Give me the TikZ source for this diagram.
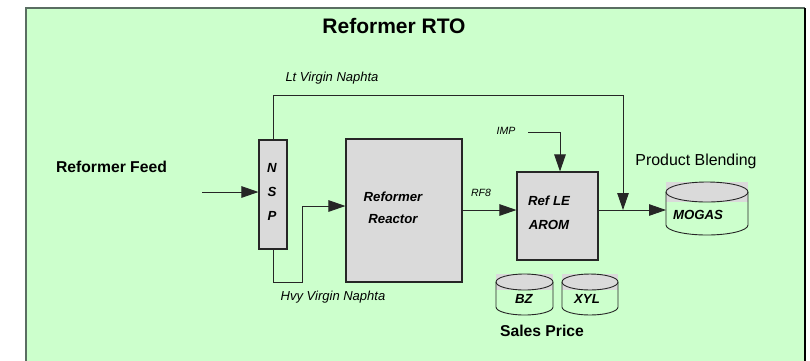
\documentclass[tikz,border=0pt]{standalone}
\usepackage{fontspec}
\setmainfont{Liberation Sans}
\usetikzlibrary{arrows.meta}
\definecolor{bggreen}{HTML}{CCFFCC}
\definecolor{boxgray}{HTML}{DADADA}
\definecolor{framegray}{HTML}{5A6E62}
\definecolor{linecol}{HTML}{262626}
\newcommand{\cylshape}[5]{%
  \fill[boxgray] (#1,#3-#5) rectangle (#2,#3+#5);
  \draw[cylline] ({(#1+#2)/2},#3) ellipse [x radius={(#2-#1)/2}, y radius=#5];
  \draw[cylline] (#1,#3) -- (#1,#4) arc[start angle=180, end angle=0, x radius={(#2-#1)/2}, y radius=#5] -- (#2,#3);
}
\begin{document}
\begin{tikzpicture}[x=1pt,y=-1pt,
  unitbox/.style={draw=linecol, line width=1.1pt, fill=boxgray, inner sep=0pt},
  cylline/.style={draw=linecol, line width=0.9pt},
  arr/.style={draw=linecol, line width=0.9pt, -{Triangle[length=17pt,width=11.5pt]}},
  boxtxt/.style={font=\fontsize{13.2}{22}\selectfont\bfseries\itshape, inner sep=0pt, align=center},
  streamtxt/.style={font=\fontsize{13}{15}\selectfont\itshape, inner sep=0pt},
  smalltxt/.style={font=\fontsize{10.5}{12}\selectfont\itshape, inner sep=0pt},
  bigtxt/.style={font=\fontsize{15.7}{18}\selectfont\bfseries, inner sep=0pt},
  plaintxt/.style={font=\fontsize{15.9}{18}\selectfont, inner sep=0pt},
  titletxt/.style={font=\fontsize{21}{24}\selectfont\bfseries, inner sep=0pt}
]
\useasboundingbox (0,0) rectangle (810,360);
% frame
\fill[bggreen] (26,8) rectangle (805,366);
\draw[framegray, line width=1.3pt] (26,366) -- (26,8) -- (805,8);
\draw[black, line width=1.6pt] (805,8) -- (805,366);

% title and labels
\node[titletxt] (title) at (394,26) {Reformer RTO};
\node[bigtxt] (feedlbl) at (111.5,167) {Reformer Feed};
\node[streamtxt] (ltlbl) at (332,78) {Lt Virgin Naphta};
\node[streamtxt] (hvylbl) at (333,297) {Hvy Virgin Naphta};
\node[smalltxt] (rf8lbl) at (481,193) {RF8};
\node[smalltxt] (implbl) at (506,131) {IMP};
\node[plaintxt] (blendlbl) at (696,161) {Product Blending};
\node[bigtxt] (saleslbl) at (542,331) {Sales Price};

% units
\node[unitbox, minimum width=28pt, minimum height=109pt] (nsp) at (273,194.5) {};
\node[boxtxt, font=\fontsize{13.2}{24}\selectfont\bfseries\itshape] (nsptxt) at (272,192) {N\\S\\P};
\node[unitbox, minimum width=116pt, minimum height=143pt] (reactor) at (404,210.5) {};
\node[boxtxt] (reactortxt) at (393,208) {Reformer\\Reactor};
\node[unitbox, minimum width=81pt, minimum height=88pt] (refle) at (557.5,216) {};
\node[boxtxt, font=\fontsize{13.2}{24}\selectfont\bfseries\itshape] (refletxt) at (549,213) {Ref LE\\AROM};

% tanks
\cylshape{666}{748}{192}{225}{10}
\node[boxtxt] (mogas) at (698,215) {MOGAS};
\cylshape{496}{553}{282}{307}{8}
\node[boxtxt] (bz) at (524,299) {BZ};
\cylshape{562}{618}{282}{307}{8}
\node[boxtxt] (xyl) at (587,299) {XYL};

% connectors
\coordinate (feedin) at (202,192);
\coordinate (mix) at (623,210);
\coordinate (mogasin) at (666,210);
\coordinate (hv1) at (302,282);
\coordinate (hv2) at (302,206);
\coordinate (imp) at (528,132);
\coordinate (impdown) at (560,132);

\draw[arr] (feedin) -- (feedin -| nsp.west);
\draw[arr] (nsp.north) -- ++(0,-44) -| (mix);
\draw[arr] (nsp.south) |- (hv1) -- (hv2) -- (hv2 -| reactor.west);
\draw[arr] (reactor.east |- mix) -- (refle.west |- mix);
\draw[arr] (refle.east |- mix) -- (mogasin);
\draw[arr] (imp) -- (impdown) -- (impdown |- refle.north);
\end{tikzpicture}
\end{document}
